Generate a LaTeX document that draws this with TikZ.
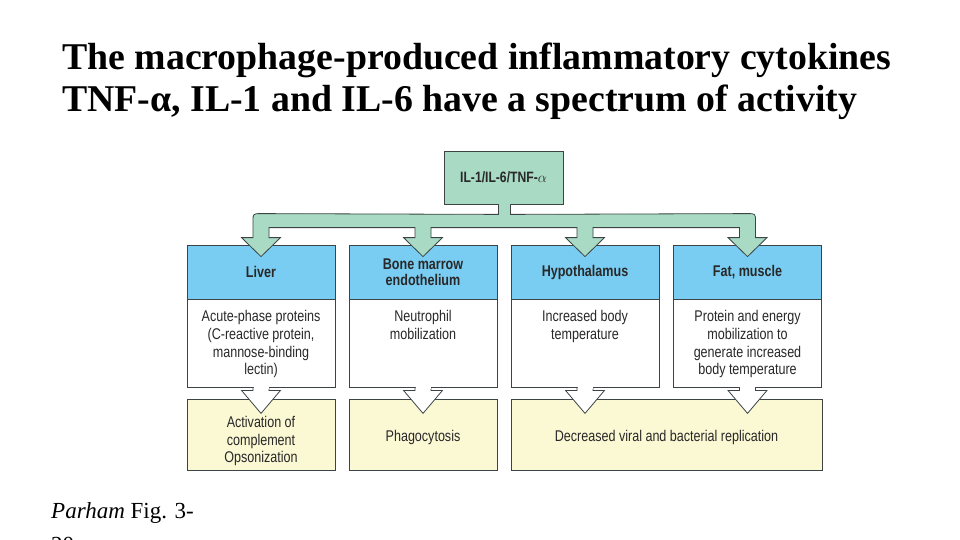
\documentclass[tikz,border=0pt]{standalone}
\usepackage{fontspec}
\setmainfont{Liberation Serif}
\newfontfamily\dsf[FakeStretch=0.81]{Liberation Sans}
\usetikzlibrary{calc}
\definecolor{hdrblue}{RGB}{122,205,242}
\definecolor{mint}{RGB}{168,218,196}
\definecolor{paleyel}{RGB}{251,248,212}
\definecolor{edge}{RGB}{60,68,70}
\definecolor{ink}{RGB}{40,40,40}
\tikzset{
  box/.style={draw=edge, line width=0.8pt, inner sep=0pt, minimum width=148pt, align=center,
              text=ink, font=\dsf\fontsize{15.5}{16}\selectfont},
  hdr/.style={box, fill=hdrblue, minimum height=54pt, font=\dsf\bfseries\fontsize{15.5}{16}\selectfont},
  bodybox/.style={box, fill=white, minimum height=88.5pt},
  yel/.style={box, fill=paleyel, minimum height=71pt},
  srcbox/.style={box, fill=mint, minimum width=119pt, minimum height=53pt, font=\dsf\bfseries\fontsize{15}{16}\selectfont},
  bodytext/.style={anchor=north, inner sep=0pt, align=center, text=ink, font=\dsf\fontsize{15.5}{17.6}\selectfont},
  yeltext/.style={inner sep=0pt, align=center, text=ink, font=\dsf\fontsize{15.5}{17.6}\selectfont},
  outline/.style={draw=edge, line width=0.8pt, line join=miter},
  titletext/.style={anchor=base west, inner sep=0pt, font=\bfseries\fontsize{37.8}{42}\selectfont}
}
% arm with arrowhead of the big distributing arrow, below node #1
\newcommand\armhead[1]{-- ($(#1.north)+(-8,-17)$) -- ($(#1.north)+(-8,-7)$) -- ($(#1.north)+(-19.5,-7)$) -- ($(#1.north)+(0,12)$) -- ($(#1.north)+(19.5,-7)$) -- ($(#1.north)+(8,-7)$) -- ($(#1.north)+(8,-17)$)}
\newcommand\Tpath{($(src.south)+(-5,0)$) -- ($(src.south)+(-5,10)$)
  -- ($(liver.north)+(0,-31)$) .. controls ($(liver.north)+(-8,-31)$) .. ($(liver.north)+(-8,-23)$)
  -- ($(liver.north)+(-8,-7)$) -- ($(liver.north)+(-19.5,-7)$) -- ($(liver.north)+(0,12)$) -- ($(liver.north)+(19.5,-7)$) -- ($(liver.north)+(8,-7)$) -- ($(liver.north)+(8,-17)$)
  \armhead{bone} \armhead{hyp}
  -- ($(fat.north)+(-8,-17)$) -- ($(fat.north)+(-8,-7)$) -- ($(fat.north)+(-19.5,-7)$) -- ($(fat.north)+(0,12)$) -- ($(fat.north)+(19.5,-7)$) -- ($(fat.north)+(8,-7)$)
  -- ($(fat.north)+(8,-23)$) .. controls ($(fat.north)+(8,-31)$) .. ($(fat.north)+(0,-31)$)
  -- ($(src.south)+(7,10)$) -- ($(src.south)+(7,0)$)}
% white down arrow from the bottom of node #1
\newcommand\downpath[1]{($(#1.south)+(-8,0)$) -- ($(#1.south)+(-8,2.5)$) -- ($(#1.south)+(-19.5,2.5)$) -- ($(#1.south)+(0,25.5)$) -- ($(#1.south)+(19.5,2.5)$) -- ($(#1.south)+(8,2.5)$) -- ($(#1.south)+(8,0)$)}
\newcommand\whitedown[1]{%
  \fill[white] \downpath{#1} -- cycle;
  \draw[outline] \downpath{#1};
  \fill[white] ($(#1.south)+(-7.5,-0.6)$) rectangle ($(#1.south)+(7.5,1)$);}
\begin{document}
\begin{tikzpicture}[x=1pt,y=-1pt]
\useasboundingbox (0,0) rectangle (960,540);
\clip (0,0) rectangle (960,540);
\fill[white] (0,0) rectangle (960,540);

% title
\node[titletext] (title1) at (62,69.5) {The macrophage-produced inflammatory cytokines};
\node[titletext] (title2) at (62,112) {TNF-α, IL-1 and IL-6 have a spectrum of activity};

% source box
\node[srcbox] (src) at (503.5,177.5) {IL-1/IL-6/TNF-$\alpha$};

% headers
\node[hdr] (liver) at (261,272) {Liver};
\node[hdr] (bone)  at (423,272) {Bone marrow\\endothelium};
\node[hdr] (hyp)   at (585,272) {Hypothalamus};
\node[hdr] (fat)   at (747.5,272) {Fat, muscle};

% white bodies
\node[bodybox] (liverb) at (261,343.25) {};
\node[bodybox] (boneb)  at (423,343.25) {};
\node[bodybox] (hypb)   at (585,343.25) {};
\node[bodybox] (fatb)   at (747.5,343.25) {};
\node[bodytext] (livert) at (261,310.5) {Acute-phase proteins\\(C-reactive protein,\\mannose-binding\\lectin)};
\node[bodytext] (bonet)  at (423,310.5) {Neutrophil\\mobilization};
\node[bodytext] (hypt)   at (585,310.5) {Increased body\\temperature};
\node[bodytext] (fatt)   at (747.5,310.5) {Protein and energy\\mobilization to\\generate increased\\body temperature};

% yellow outcomes
\node[yel] (act)   at (261,434.5) {};
\node[yel] (phago) at (423,434.5) {};
\node[yel, minimum width=311pt] (decr) at (666.5,434.5) {};
\node[yeltext] (actt)   at (261,441) {Activation of\\complement\\Opsonization};
\node[yeltext] (phagot) at (423,437.5) {Phagocytosis};
\node[yeltext] (decrt)  at (666.5,437.5) {Decreased viral and bacterial replication};

% distributing arrow
\fill[mint] \Tpath -- cycle;
\draw[outline] \Tpath;
\fill[mint] ($(src.south)+(-4.5,-0.6)$) rectangle ($(src.south)+(6.5,1)$);

% white arrows
\whitedown{liverb}
\whitedown{boneb}
\whitedown{hypb}
\whitedown{fatb}

% citation
\node[anchor=base west, inner sep=0pt, font=\fontsize{23}{26}\selectfont] (cite) at (51,518) {\textit{Parham} Fig. 3-};
\node[anchor=base west, inner sep=0pt, font=\fontsize{23}{26}\selectfont] (cite2) at (51,552) {20};
\end{tikzpicture}
\end{document}
